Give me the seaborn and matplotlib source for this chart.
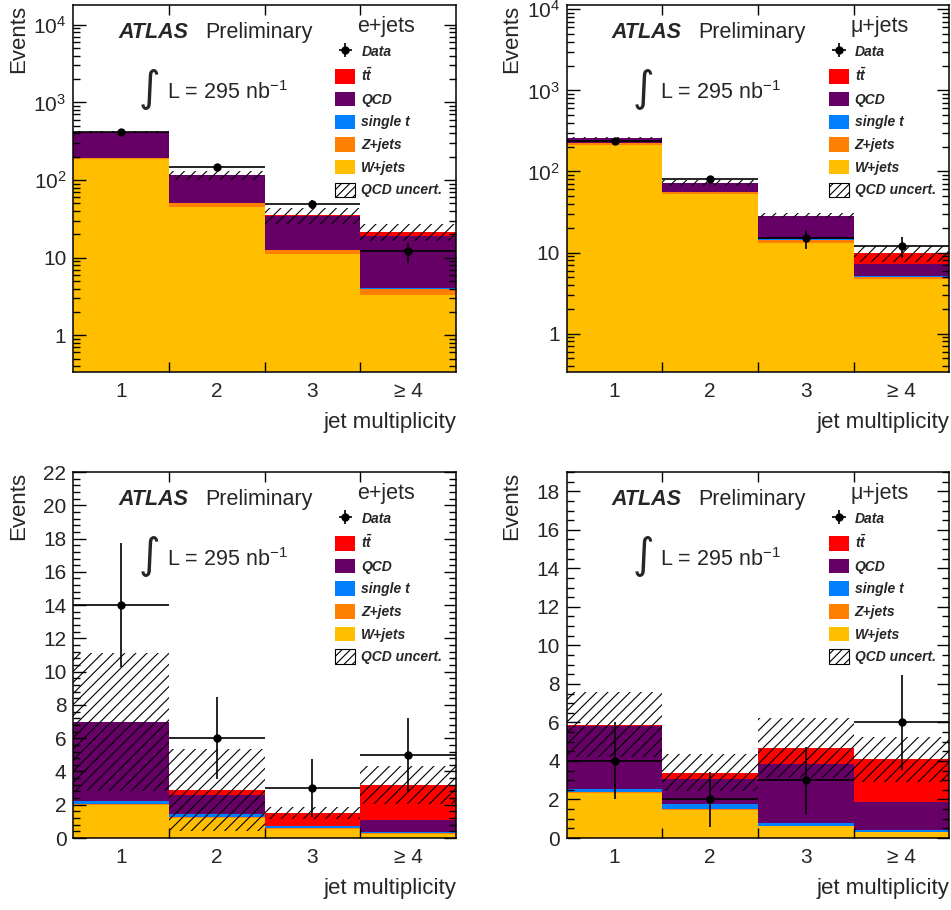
import numpy as np
import seaborn as sns
import matplotlib.pyplot as plt
from matplotlib.patches import Patch
from matplotlib.ticker import FixedLocator, MultipleLocator, LogLocator, NullFormatter

# bins and labels
categories = ["1", "2", "3", "≥ 4"]
components = ["W+jets", "Z+jets", "single t", "QCD", r"$\mathbfit{t\bar{t}}$"]
colors = ["#ffbf00", "#ff8000", "#0080ff", "#660066", "#ff0000"]

# e+jets, pretag (log)
el_pre_W = [185, 45, 11.1, 3.35]
el_pre_Z = [7, 5, 1.3, 0.57]
el_pre_t = [1.0, 0.6, 0.3, 0.2]
el_pre_qcd = [219, 64, 21.8, 14.8]
el_pre_tt = [0.5, 1.0, 0.5, 2.6]
el_pre_data = [415, 147, 49, 12]
el_pre_unc = [12, 16, 8, 5.3]

# mu+jets, pretag (log)
mu_pre_W = [211, 52.5, 13.2, 4.7]
mu_pre_Z = [13, 3, 1.1, 0.3]
mu_pre_t = [1.5, 0.4, 0.2, 0.15]
mu_pre_qcd = [32, 15.4, 13.4, 2.15]
mu_pre_tt = [1.5, 0.5, 0.5, 2.6]
mu_pre_data = [240, 80, 15, 12]
mu_pre_unc = [5, 6, 2, 2.2]

# e+jets, tagged (linear)
el_tag_W = [2.0, 1.18, 0.55, 0.26]
el_tag_Z = [0.05, 0.06, 0.03, 0.02]
el_tag_t = [0.15, 0.22, 0.12, 0.07]
el_tag_qcd = [4.75, 1.14, 0.02, 0.75]
el_tag_tt = [0.05, 0.3, 0.78, 2.1]
el_tag_data = [14, 6, 3, 5]
el_tag_unc = [4.15, 2.45, 0.36, 1.14]

# mu+jets, tagged (linear)
mu_tag_W = [2.36, 1.46, 0.62, 0.30]
mu_tag_Z = [0.04, 0.04, 0.02, 0.02]
mu_tag_t = [0.17, 0.26, 0.16, 0.12]
mu_tag_qcd = [3.27, 1.29, 3.06, 1.43]
mu_tag_tt = [0.05, 0.34, 0.81, 2.21]
mu_tag_data = [4, 2, 3, 6]
mu_tag_unc = [1.68, 0.96, 1.55, 1.15]

log_ticks = [1, 10, 100, 1000, 10000]
log_ticklabels = ["1", "10", r"$10^{2}$", r"$10^{3}$", r"$10^{4}$"]

sns.set_style("ticks")
plt.rcParams['font.family'] = ['Liberation Sans', 'DejaVu Sans']
plt.rcParams['mathtext.fontset'] = 'custom'
plt.rcParams['mathtext.rm'] = 'Liberation Sans'
plt.rcParams['mathtext.it'] = 'Liberation Sans:italic'
plt.rcParams['mathtext.bf'] = 'Liberation Sans:bold'
plt.rcParams['mathtext.bfit'] = 'Liberation Sans:italic:bold'
plt.rcParams['hatch.linewidth'] = 0.8
plt.rcParams['axes.axisbelow'] = False


def draw_panel(ax, comps, data, unc, channel, log, ylim, minor_step=None):
    comps = np.array(comps, dtype=float)
    cum = np.cumsum(comps, axis=0)
    total = cum[-1]
    x = np.arange(len(categories))
    if log:
        ax.set_yscale('log')
    # stacked histogram: draw cumulative sums from the top down
    for i in range(len(comps) - 1, -1, -1):
        sns.barplot(x=categories, y=cum[i], color=colors[i], width=1, saturation=1,
                    errorbar=None, linewidth=0, ax=ax, zorder=1)
    unc = np.array(unc)
    ax.bar(x, 2 * unc, bottom=total - unc, width=1, fill=False, hatch='///',
           edgecolor='black', linewidth=0, zorder=3)
    data = np.array(data, dtype=float)
    eb = ax.errorbar(x, data, xerr=0.5, yerr=np.sqrt(data), fmt='o', color='black',
                     ms=5, elinewidth=1.2, capsize=0, zorder=4)

    ax.set_axisbelow(False)
    ax.set_xlim(-0.5, len(categories) - 0.5)
    ax.set_ylim(*ylim)
    ax.xaxis.set_minor_locator(FixedLocator(x[:-1] + 0.5))
    ax.tick_params(axis='x', which='major', length=0, pad=7, labelsize=15)
    ax.tick_params(axis='x', which='minor', length=7, width=1, direction='in', top=True, bottom=True,
                   color='black')
    ax.tick_params(axis='y', which='major', length=9, width=1, direction='in', left=True, right=True,
                   labelsize=15, pad=5, color='black')
    ax.tick_params(axis='y', which='minor', length=5, width=1, direction='in', left=True, right=True,
                   color='black')
    if log:
        ax.yaxis.set_major_locator(FixedLocator(log_ticks))
        ax.set_yticklabels(log_ticklabels)
        ax.yaxis.set_minor_locator(LogLocator(base=10, subs=np.arange(2, 10)))
        ax.yaxis.set_minor_formatter(NullFormatter())
    else:
        ax.yaxis.set_major_locator(MultipleLocator(2))
        ax.yaxis.set_minor_locator(MultipleLocator(minor_step))
    for s in ax.spines.values():
        s.set_linewidth(1.1)
        s.set_color('black')
        s.set_zorder(5)

    ax.set_xlabel('jet multiplicity', loc='right', fontsize=16)
    ax.xaxis.set_label_coords(1.0, -0.11)
    ax.set_ylabel('Events', loc='top', fontsize=16)
    ax.yaxis.set_label_coords(-0.116, 1.0)

    ax.text(0.117, 0.910, 'ATLAS', transform=ax.transAxes, fontsize=15.5,
            fontweight='bold', fontstyle='italic', va='baseline')
    ax.text(0.344, 0.910, 'Preliminary', transform=ax.transAxes, fontsize=15.5, va='baseline')
    ax.text(0.741, 0.926, channel, transform=ax.transAxes, fontsize=15.5, va='baseline')
    ax.text(0.20, 0.771, '∫', transform=ax.transAxes, fontsize=30, ha='center', va='center',
            family='DejaVu Sans')
    ax.text(0.245, 0.744, r'L = 295 nb$^{-1}$', transform=ax.transAxes, fontsize=15.5, va='baseline')

    handles = [eb] + [Patch(facecolor=colors[i], edgecolor='none') for i in range(len(comps) - 1, -1, -1)]
    handles.append(Patch(facecolor='white', edgecolor='black', hatch='////', linewidth=0.8))
    labels = ['Data'] + [components[i] for i in range(len(comps) - 1, -1, -1)] + ['QCD uncert.']
    ax.legend(handles, labels, loc='upper left', bbox_to_anchor=(0.685, 0.893), frameon=False,
              borderpad=0, borderaxespad=0, handlelength=1.44, handleheight=1.22,
              labelspacing=0.56, handletextpad=0.43,
              prop={'weight': 'bold', 'style': 'italic', 'size': 10})


fig = plt.figure(figsize=(9.51, 9.10), dpi=100)
ax_tl = fig.add_axes([0.0771, 0.5912, 0.4024, 0.4033])
ax_tr = fig.add_axes([0.5959, 0.5912, 0.4024, 0.4033])
ax_bl = fig.add_axes([0.0771, 0.0791, 0.4024, 0.4022])
ax_br = fig.add_axes([0.5959, 0.0791, 0.4024, 0.4022])

draw_panel(ax_tl, [el_pre_W, el_pre_Z, el_pre_t, el_pre_qcd, el_pre_tt], el_pre_data, el_pre_unc,
           'e+jets', True, (0.336, 1.8e4))
draw_panel(ax_tr, [mu_pre_W, mu_pre_Z, mu_pre_t, mu_pre_qcd, mu_pre_tt], mu_pre_data, mu_pre_unc,
           'μ+jets', True, (0.336, 1.13e4))
draw_panel(ax_bl, [el_tag_W, el_tag_Z, el_tag_t, el_tag_qcd, el_tag_tt], el_tag_data, el_tag_unc,
           'e+jets', False, (0, 22), 0.4)
draw_panel(ax_br, [mu_tag_W, mu_tag_Z, mu_tag_t, mu_tag_qcd, mu_tag_tt], mu_tag_data, mu_tag_unc,
           'μ+jets', False, (0, 19), 0.5)

fig.savefig('out.png', dpi=100)
plt.close(fig)
